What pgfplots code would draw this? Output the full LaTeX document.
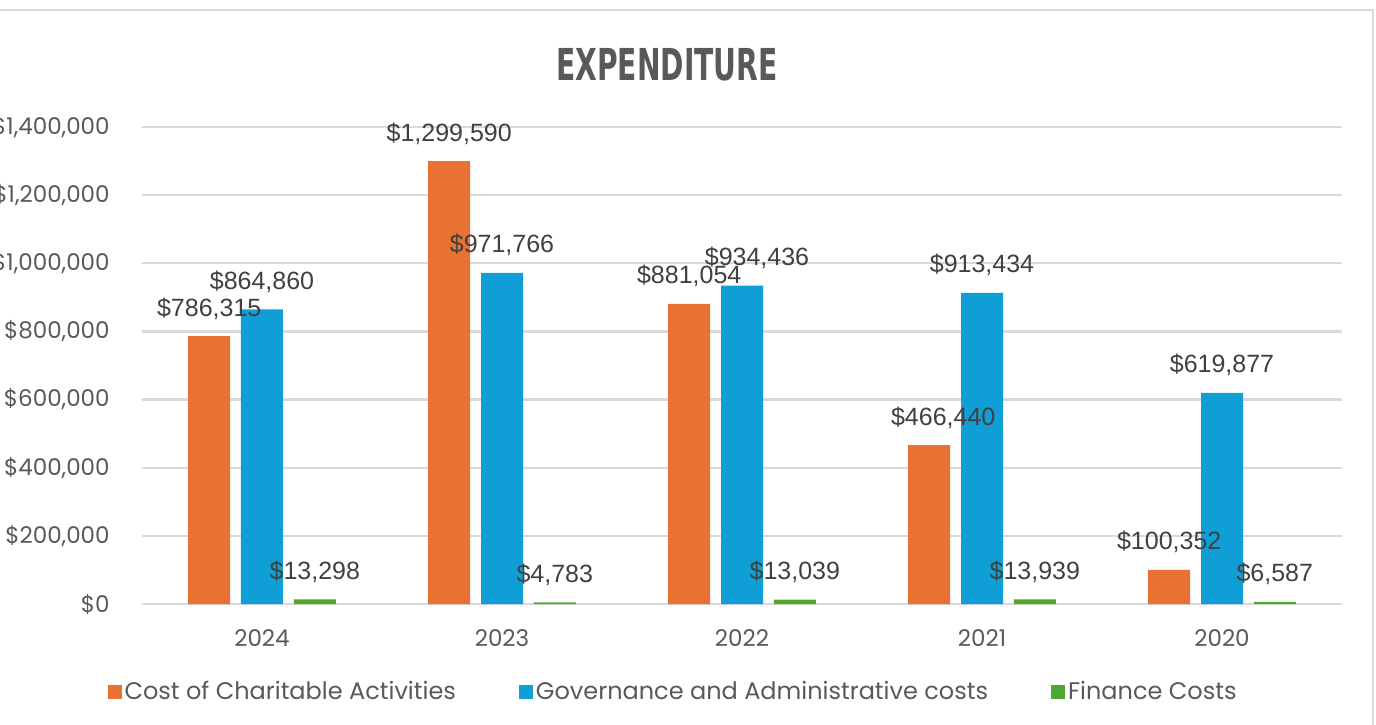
\documentclass[border=0pt]{standalone}
\usepackage{pgfplots}
\usepackage{pgfplotstable}
\pgfplotsset{compat=1.18}
\usepackage{fontspec}
\setmainfont{Liberation Sans}
\newfontfamily\tickfont{Poppins}
\newfontfamily\lblfont{Liberation Sans}
\newfontfamily\titlefont[FakeStretch=0.64]{DejaVu Sans}
\definecolor{corange}{HTML}{E97132}
\definecolor{cblue}{HTML}{0F9ED5}
\definecolor{cgreen}{HTML}{4EA72E}
\definecolor{txt}{HTML}{595959}
\definecolor{lbl}{HTML}{404040}
\definecolor{gridc}{HTML}{D9D9D9}

\pgfplotstableread{
x y lab dx
0 786315 786,315 0
1 1299590 1,299,590 0
2 881054 881,054 0
3 466440 466,440 7
4 100352 100,352 0
}\orangedata
\pgfplotstableread{
x y lab dx
0 864860 864,860 0
1 971766 971,766 0
2 934436 934,436 7.5
3 913434 913,434 0
4 619877 619,877 0
}\bluedata
\pgfplotstableread{
x y lab dx
0 13298 13,298 0
1 4783 4,783 0
2 13039 13,039 0
3 13939 13,939 0
4 6587 6,587 0
}\greendata

\begin{document}
\begin{tikzpicture}
\begin{axis}[
  width=600pt, height=238.5pt, scale only axis,
  at={(0,0)}, anchor=south west,
  xmin=-0.5, xmax=4.5, ymin=0, ymax=1400000,
  enlarge x limits=false, enlarge y limits=false,
  ybar, bar width=0.175,
  axis line style={draw=none}, major tick length=0pt,
  ymajorgrids, grid style={gridc, line width=1.1pt},
  scaled y ticks=false,
  ytick={0,200000,400000,600000,800000,1000000,1200000,1400000},
  yticklabels={{\$0},{\$200,000},{\$400,000},{\$600,000},{\$800,000},{\$1,000,000},{\$1,200,000},{\$1,400,000}},
  xtick={0,1,2,3,4},
  xticklabels={2024,2023,2022,2021,2020},
  ticklabel style={font=\tickfont\fontsize{11.5}{13}\selectfont, text=txt},
  yticklabel style={anchor=east, inner sep=0pt, xshift=-16pt},
  xticklabel style={anchor=north, inner sep=0pt, yshift=-12.5pt},
  point meta=explicit symbolic,
  nodes near coords={\$\pgfplotspointmeta},
  visualization depends on={\thisrow{dx}\as\dx},
  every node near coord/.append style={font=\lblfont\fontsize{12.5}{14}\selectfont, text=lbl, anchor=base, inner sep=0pt, yshift=10pt, xshift=\dx pt},
  clip=false,
  legend columns=3,
  legend style={at={(0.443,-0.1845)}, anchor=center, draw=none, fill=none,
    font=\tickfont\fontsize{12}{14}\selectfont, text=txt,
    /tikz/every even column/.append style={column sep=30pt},
    nodes={inner sep=1.5pt}},
  legend image code/.code={\fill[#1] (0pt,-3.5pt) rectangle (7pt,3.5pt);},
]
\addplot[fill=corange, draw=none, bar shift=-0.22] table[x=x,y=y,meta=lab]{\orangedata};
\addplot[fill=cblue, draw=none, bar shift=0] table[x=x,y=y,meta=lab]{\bluedata};
\addplot[fill=cgreen, draw=none, bar shift=0.22] table[x=x,y=y,meta=lab]{\greendata};
\legend{Cost of Charitable Activities, Governance and Administrative costs, Finance Costs}
\end{axis}
\draw[gridc, line width=1pt] (-80pt,297pt) -- (615.5pt,297pt) -- (615.5pt,-70pt);
\node[font=\titlefont\bfseries\fontsize{22}{24}\selectfont, text=txt] at (262.5pt,269.5pt) {EXPENDITURE};
\pgfresetboundingbox
\path[use as bounding box] (-71pt,-60pt) rectangle (617pt,302pt);
\end{tikzpicture}
\end{document}
